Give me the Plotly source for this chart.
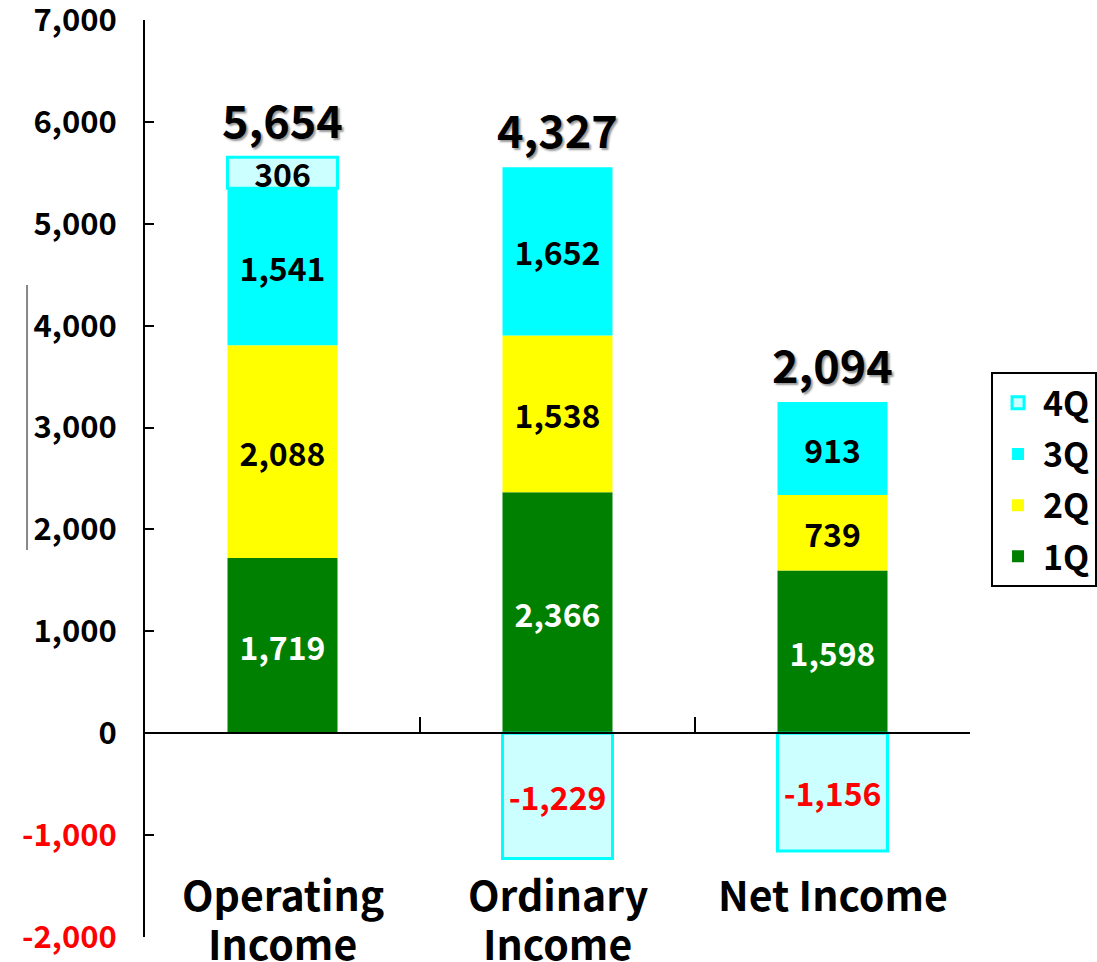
import plotly.graph_objects as go

categories = ["Operating Income", "Ordinary Income", "Net Income"]
cat_labels = [["Operating", "Income"], ["Ordinary", "Income"], ["Net Income"]]
q1 = [1719, 2366, 1598]
q2 = [2088, 1538, 739]
q3 = [1541, 1652, 913]
q4 = [306, -1229, -1156]
y_ticks = [-2000, -1000, 0, 1000, 2000, 3000, 4000, 5000, 6000, 7000]
y_range = [-2000, 7000]

FONT = "Noto Sans CJK JP"

def fmt(v):
    return f"{v:,}"

series = [
    ("1Q", q1, "#008000", "#008000", 0, "white", 4),
    ("2Q", q2, "#FFFF00", "#FFFF00", 0, "black", 3),
    ("3Q", q3, "#00FFFF", "#00FFFF", 0, "black", 2),
    ("4Q", q4, "#CCFFFF", "#00FFFF", 3, None, 1),
]

fig = go.Figure()
for name, vals, fill, line, lw, tcol, rank in series:
    colors = [tcol if tcol else ("red" if v < 0 else "black") for v in vals]
    fig.add_trace(go.Bar(
        x=categories, y=vals, name=name, legendgroup=name, legendrank=rank,
        marker=dict(color=fill, line=dict(color=line, width=lw)),
        text=[fmt(v) for v in vals], textposition="inside",
        insidetextanchor="middle", textangle=0, constraintext="none",
        textfont=dict(family=FONT, size=32, color=colors, weight="bold"),
        width=0.4, hoverinfo="skip",
    ))

totals = [a + b + c + d for a, b, c, d in zip(q1, q2, q3, q4)]
tops = [a + b + c + max(d, 0) for a, b, c, d in zip(q1, q2, q3, q4)]

annotations = []
for cat, tot, top in zip(categories, totals, tops):
    annotations.append(dict(
        x=cat, y=top, xref="x", yref="y", text=fmt(tot), showarrow=False,
        yanchor="middle", yshift=39,
        font=dict(family=FONT, size=45, color="black", weight="bold",
                  shadow="2px 2px 2px #999999"),
    ))
for cat, lines in zip(categories, cat_labels):
    for i, ln in enumerate(lines):
        annotations.append(dict(
            x=cat, y=-1570, xref="x", yref="y", text=ln, showarrow=False,
            yanchor="middle", yshift=-49 * i,
            font=dict(family=FONT, size=41, color="black", weight="bold"),
        ))

ticktext = [f'<span style="color:red">{fmt(v)}</span>' if v < 0 else fmt(v) for v in y_ticks]

zero_pos = (0 - y_range[0]) / (y_range[1] - y_range[0])

fig.update_layout(
    width=1097, height=962,
    barmode="relative",
    paper_bgcolor="white", plot_bgcolor="white",
    margin=dict(l=145, r=127, t=20, b=25, autoexpand=False),
    font=dict(family=FONT, size=24, color="black", weight="bold"),
    showlegend=True,
    legend=dict(
        x=1.0255, y=0.616, xanchor="left", yanchor="top",
        traceorder="grouped", tracegroupgap=4,
        bordercolor="black", borderwidth=2, bgcolor="white",
        font=dict(family=FONT, size=34, color="black", weight="bold"),
        itemwidth=40,
    ),
    xaxis=dict(
        type="category", anchor="free", position=zero_pos,
        showline=True, linecolor="black", linewidth=2,
        ticks="inside", ticklen=15, tickwidth=2, tickcolor="black",
        tickson="boundaries", showticklabels=False, showgrid=False,
        zeroline=False,
    ),
    yaxis=dict(
        range=y_range, tickvals=y_ticks, ticktext=ticktext,
        showline=True, linecolor="black", linewidth=2,
        ticks="inside", ticklen=9, tickwidth=2, tickcolor="black",
        showgrid=False, zeroline=False, ticklabelstandoff=20,
        ticklabeloverflow="allow",
        tickfont=dict(family=FONT, size=31, color="black", weight="bold"),
    ),
    annotations=annotations,
    shapes=[dict(type="line", xref="paper", yref="paper",
                 x0=-0.143, x1=-0.143, y0=0.422, y1=0.711,
                 line=dict(color="#888888", width=2))],
)

fig.write_html("out.html", config={"displayModeBar": False},
               post_script="document.body.style.margin='0px';")
